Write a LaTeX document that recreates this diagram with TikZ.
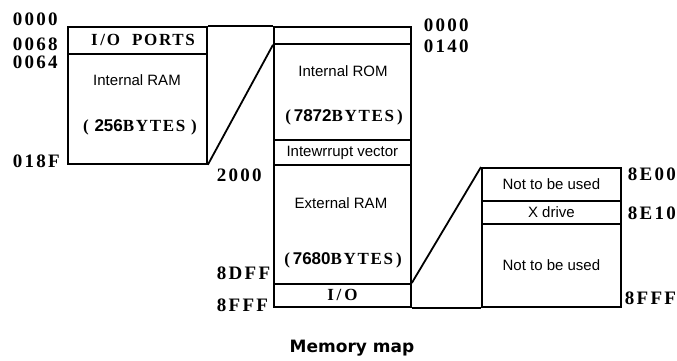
\documentclass[tikz,border=0pt]{standalone}
\usepackage{fontspec}
\setmainfont{Liberation Serif}
\newfontfamily\numf[LetterSpace=12]{Liberation Serif}
\newfontfamily\ltrf[LetterSpace=10]{Liberation Serif}
\newfontfamily\sansf{Liberation Sans}
\newfontfamily\titlef{DejaVu Sans}
\begin{document}
\begin{tikzpicture}[x=1pt,y=-1pt, line width=1.8pt,
  sect/.style={draw, rectangle, inner sep=0pt, anchor=north west, font=\sansf\fontsize{15}{15}\selectfont},
  addr/.style={font=\numf\bfseries\fontsize{19}{19}\selectfont, anchor=west, inner sep=0pt},
  lbl/.style={font=\sansf\fontsize{15}{15}\selectfont, inner sep=0pt},
  bytes/.style={font=\ltrf\bfseries\fontsize{17}{17}\selectfont, inner sep=0pt}]
\useasboundingbox (0,0) rectangle (677,360);
% left block
\node[sect, minimum width=139pt, minimum height=27pt] (ioports) at (67,26) {};
\node[sect, minimum width=139pt, minimum height=110pt] (iram) at (67,53) {};
\node[bytes] (ioportsT) at (143,40) {I\,/O\ \ PORTS};
\node[lbl] (iramT) at (137,80) {Internal RAM};
\node[bytes] (iramB) at (140,127) {(\,\,{\sansf\bfseries 256}BYTES\,\,)};
% middle block
\node[sect, minimum width=137pt, minimum height=17pt] (blank) at (273,26) {};
\node[sect, minimum width=137pt, minimum height=96pt] (rom) at (273,43) {};
\node[sect, minimum width=137pt, minimum height=25pt] (vec) at (273,139) {Intewrrupt vector};
\node[sect, minimum width=137pt, minimum height=119pt] (eram) at (273,164) {};
\node[sect, minimum width=137pt, minimum height=23pt, font=\ltrf\bfseries\fontsize{17}{17}\selectfont] (io) at (273,283) {I\,/\,O};
\node[lbl] (romT) at (343,71) {Internal ROM};
\node[bytes] (romB) at (344,117) {(\,{\sansf\bfseries 7872}BYTES\,)};
\node[lbl] (eramT) at (341,203) {External RAM};
\node[bytes] (eramB) at (343,260) {(\,{\sansf\bfseries 7680}BYTES\,)};
% right block
\node[sect, minimum width=139pt, minimum height=33pt] (nu1) at (481,167) {Not to be used};
\node[sect, minimum width=139pt, minimum height=23pt] (xd) at (481,200) {X drive};
\node[sect, minimum width=139pt, minimum height=83pt] (nu2) at (481,223) {Not to be used};
% connectors
\draw (ioports.north east) -- (blank.north west);
\draw (iram.south east) -- (blank.south west);
\draw (io.north east) -- (nu1.north west);
\draw (io.south east) -- (nu2.south west);
% addresses
\node[addr] (a1) at (12,19) {0000};
\node[addr] (a2) at (12,44) {0068};
\node[addr] (a3) at (12,62) {0064};
\node[addr] (a4) at (12,161) {018F};
\node[addr] (b1) at (423,25) {0000};
\node[addr] (b2) at (423,46) {0140};
\node[addr] (b3) at (216,175) {2000};
\node[addr] (b4) at (216,273) {8DFF};
\node[addr] (b5) at (216,305) {8FFF};
\node[addr] (c1) at (627,174) {8E00};
\node[addr] (c2) at (627,213) {8E10};
\node[addr] (c3) at (624,298) {8FFF};
% title
\node[font=\titlef\bfseries\fontsize{17}{17}\selectfont, inner sep=0pt] (title) at (352,348) {Memory map};
\end{tikzpicture}
\end{document}
